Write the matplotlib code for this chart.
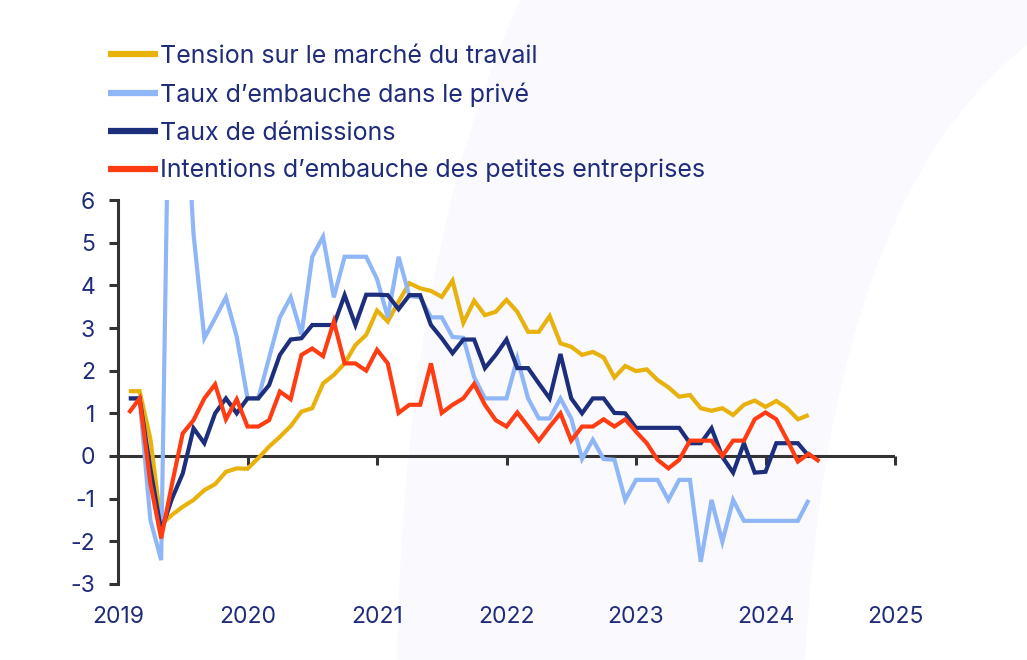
import matplotlib
matplotlib.use("Agg")
import matplotlib.pyplot as plt
import numpy as np
from matplotlib.path import Path
from matplotlib.patches import PathPatch

# ---------------- data (monthly, starting Feb 2019) ----------------
tension = [1.52, 1.52, 0.40, -1.60, -1.38, -1.19, -1.03, -0.80, -0.66, -0.37, -0.29, -0.30,
           -0.05, 0.22, 0.45, 0.70, 1.04, 1.12, 1.70, 1.90, 2.17, 2.60, 2.84, 3.41,
           3.15, 3.62, 4.05, 3.93, 3.87, 3.73, 4.11, 3.12, 3.64, 3.30, 3.38, 3.66,
           3.38, 2.91, 2.91, 3.28, 2.64, 2.56, 2.37, 2.44, 2.31, 1.84, 2.11, 1.99,
           2.03, 1.78, 1.61, 1.39, 1.43, 1.12, 1.06, 1.12, 0.96, 1.20, 1.30, 1.15,
           1.29, 1.12, 0.86, 0.96]

embauche_prive = [1.35, 1.35, -1.50, -2.44, 13.5, 9.6, 5.20, 2.76, 3.23, 3.72, 2.80, 1.35,
                  1.35, 2.30, 3.25, 3.72, 2.85, 4.67, 5.14, 3.72, 4.67, 4.67, 4.67, 4.15,
                  3.25, 4.67, 3.75, 3.72, 3.25, 3.25, 2.79, 2.77, 1.85, 1.35, 1.35, 1.35,
                  2.29, 1.35, 0.88, 0.88, 1.35, 0.88, -0.07, 0.38, -0.07, -0.09, -1.03, -0.56,
                  -0.56, -0.56, -1.03, -0.56, -0.56, -2.48, -1.03, -2.01, -1.03, -1.52, -1.52, -1.52,
                  -1.52, -1.52, -1.52, -1.03]

demissions = [1.35, 1.35, -0.30, -1.75, -1.00, -0.41, 0.65, 0.30, 1.00, 1.35, 1.00, 1.35,
              1.35, 1.66, 2.37, 2.73, 2.76, 3.07, 3.07, 3.07, 3.77, 3.07, 3.78, 3.78,
              3.77, 3.44, 3.77, 3.77, 3.07, 2.76, 2.41, 2.73, 2.73, 2.06, 2.37, 2.73,
              2.06, 2.06, 1.70, 1.35, 2.39, 1.35, 1.00, 1.35, 1.35, 1.01, 1.00, 0.66,
              0.66, 0.66, 0.66, 0.66, 0.30, 0.30, 0.65, -0.02, -0.39, 0.30, -0.39, -0.37,
              0.30, 0.30, 0.30, 0.00]

intentions = [1.01, 1.35, -0.64, -1.93, -0.66, 0.53, 0.84, 1.35, 1.68, 0.86, 1.33, 0.69,
              0.69, 0.84, 1.51, 1.33, 2.37, 2.52, 2.34, 3.15, 2.17, 2.17, 2.00, 2.49,
              2.17, 1.01, 1.20, 1.20, 2.17, 1.01, 1.20, 1.35, 1.69, 1.20, 0.84, 0.69,
              1.02, 0.69, 0.36, 0.69, 1.00, 0.36, 0.69, 0.69, 0.86, 0.69, 0.86, 0.57,
              0.30, -0.09, -0.29, -0.09, 0.36, 0.36, 0.36, 0.00, 0.36, 0.36, 0.86, 1.02,
              0.86, 0.38, -0.13, 0.05, -0.13]

labels = ["Tension sur le marché du travail",
          "Taux d\u2019embauche dans le privé",
          "Taux de démissions",
          "Intentions d\u2019embauche des petites entreprises"]
colors = ["#E9B10C", "#8FB6F6", "#1C2E7C", "#FF3C12"]
year_ticks = [2019, 2020, 2021, 2022, 2023, 2024, 2025]
y_ticks = [-3, -2, -1, 0, 1, 2, 3, 4, 5, 6]

TEXT = "#1F2C7A"
AXC = "#333333"
FONT = ["Inter", "DejaVu Sans"]
plt.rcParams["font.family"] = FONT

W, H = 1027, 660
fig = plt.figure(figsize=(W / 100, H / 100), dpi=100)
fig.patch.set_facecolor("white")

# faint decorative background band
def fp(x, y):
    return (x / W, 1 - y / H)
verts = [fp(520, 0), fp(405, 250), fp(397, 660), fp(805, 660), fp(830, 200),
         fp(1027, 45), fp(1027, 0), fp(520, 0)]
codes = [Path.MOVETO, Path.CURVE3, Path.CURVE3, Path.LINETO, Path.CURVE3,
         Path.CURVE3, Path.LINETO, Path.CLOSEPOLY]
fig.patches.append(PathPatch(Path(verts, codes), transform=fig.transFigure,
                             facecolor="#F9F9FE", edgecolor="none", zorder=-10))

ax = fig.add_axes([118 / W, (H - 584) / H, (895 - 118) / W, 384 / H])
ax.set_facecolor("none")

series = [tension, embauche_prive, demissions, intentions]
handles = []
for vals, lab, col in zip(series, labels, colors):
    x = 2019 + np.arange(1, len(vals) + 1) / 12.0
    h, = ax.plot(x, vals, color=col, lw=3.0, label=lab, solid_joinstyle="miter",
                 solid_capstyle="butt", zorder=3)
    handles.append(h)

ax.set_xlim(2019, 2025)
ax.set_ylim(-3, 6)

for s in ["top", "right", "bottom"]:
    ax.spines[s].set_visible(False)
ax.spines["left"].set_color(AXC)
ax.spines["left"].set_linewidth(2.2)

ax.set_yticks(y_ticks)
ax.set_yticklabels([str(v) for v in y_ticks])
ax.tick_params(axis="y", direction="out", length=6.5, width=2.2, color=AXC,
               labelcolor=TEXT, labelsize=16.5, pad=10)
ax.set_xticks(year_ticks)
ax.set_xticklabels([str(v) for v in year_ticks])
ax.tick_params(axis="x", length=0, labelcolor=TEXT, labelsize=16.5, pad=16)

ax.axhline(0, color=AXC, lw=2.2, zorder=2)
sec = ax.secondary_xaxis(3 / 9)
sec.set_xticks(year_ticks[1:])
sec.set_xticklabels([])
sec.spines["bottom"].set_visible(False)
sec.tick_params(axis="x", direction="out", length=6.5, width=2.2, color=AXC)

leg = fig.legend(handles=handles, loc="upper left", bbox_to_anchor=(108 / W, 1 - 45 / H),
                 frameon=False, fontsize=18, handlelength=2.0, handletextpad=0.08,
                 labelspacing=0.58, borderaxespad=0, borderpad=0)
for t in leg.get_texts():
    t.set_color(TEXT)
for lh in leg.legend_handles:
    lh.set_linewidth(4.5)

fig.savefig("out.png", dpi=100)
